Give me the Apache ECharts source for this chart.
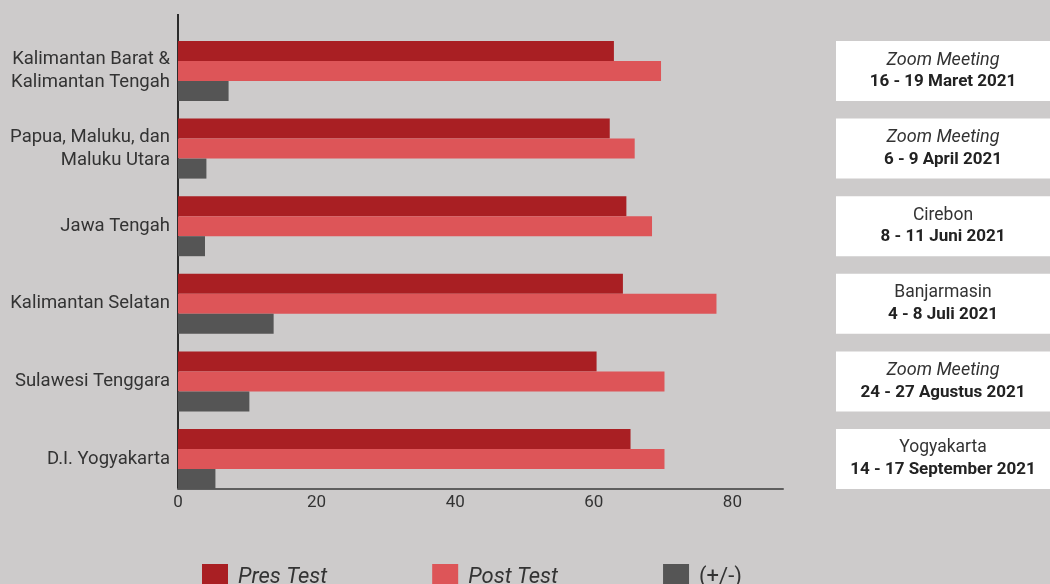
<!DOCTYPE html>
<html>
<head>
<meta charset="utf-8">
<script src="https://cdn.jsdelivr.net/npm/echarts@6/dist/echarts.min.js"></script>
<style>
  html, body { margin: 0; padding: 0; background: #cdcbcb; }
  #chart { width: 1050px; height: 584px; }
</style>
</head>
<body>
<div id="chart"></div>
<script>
// Regions (top to bottom)
const regions = [
    'Kalimantan Barat &\nKalimantan Tengah',
    'Papua, Maluku, dan\nMaluku Utara',
    'Jawa Tengah',
    'Kalimantan Selatan',
    'Sulawesi Tenggara',
    'D.I. Yogyakarta'
];

// Scores
const preTest = [62.9, 62.3, 64.7, 64.2, 60.4, 65.3];
const postTest = [69.7, 65.9, 68.4, 77.7, 70.2, 70.2];
const change = [7.3, 4.1, 3.9, 13.8, 10.3, 5.4];

// Venue + date for each region (right hand boxes)
const venues = ['Zoom Meeting', 'Zoom Meeting', 'Cirebon', 'Banjarmasin', 'Zoom Meeting', 'Yogyakarta'];
const dates = [
    '16 - 19 Maret 2021',
    '6 - 9 April 2021',
    '8 - 11 Juni 2021',
    '4 - 8 Juli 2021',
    '24 - 27 Agustus 2021',
    '14 - 17 September 2021'
];
const boxFill = regions.map(() => 1);

const xTicks = { min: 0, max: 87.3, interval: 20 };

const FONT = 'Roboto, "DejaVu Sans", sans-serif';
const gridTop = 32.2;
const gridBottom = 86.2;

const chart = echarts.init(document.getElementById('chart'));

chart.setOption({
    animation: false,
    backgroundColor: '#cdcbcb',
    textStyle: { fontFamily: FONT },
    legend: {
        left: 197,
        top: 559,
        itemWidth: 26,
        itemHeight: 26,
        itemGap: 105,
        icon: 'rect',
        textStyle: { fontSize: 22, color: '#333', fontFamily: FONT, padding: [0, 0, 0, 5] },
        data: [
            { name: 'Pres Test', textStyle: { fontStyle: 'italic' } },
            { name: 'Post Test', textStyle: { fontStyle: 'italic' } },
            { name: '(+/-)' }
        ]
    },
    grid: [
        { left: 178, right: 267, top: gridTop, bottom: gridBottom },
        { left: 836, right: -6, top: gridTop, bottom: gridBottom }
    ],
    xAxis: [
        {
            type: 'value',
            gridIndex: 0,
            min: xTicks.min,
            max: xTicks.max,
            interval: xTicks.interval,
            offset: -8.8,
            splitLine: { show: false },
            axisTick: { show: false },
            axisLine: { show: true, lineStyle: { color: '#5e5e5e', width: 2 } },
            axisLabel: { fontSize: 17, color: '#333', margin: 5, showMaxLabel: false }
        },
        { type: 'value', gridIndex: 1, min: 0, max: 1, show: false }
    ],
    yAxis: [
        {
            type: 'category',
            gridIndex: 0,
            inverse: true,
            data: regions,
            axisLine: { show: false },
            axisTick: { show: false },
            axisLabel: { fontSize: 18.5, color: '#333', lineHeight: 23, margin: 8, align: 'right' }
        },
        { type: 'category', gridIndex: 1, inverse: true, data: regions, show: false }
    ],
    series: [
        {
            name: 'Pres Test', type: 'bar', barWidth: 20, barGap: '0%',
            itemStyle: { color: '#a91f23' }, data: preTest
        },
        {
            name: 'Post Test', type: 'bar', barWidth: 20, barGap: '0%',
            itemStyle: { color: '#dd5558' }, data: postTest
        },
        {
            name: '(+/-)', type: 'bar', barWidth: 20, barGap: '0%',
            itemStyle: { color: '#555555' }, data: change
        },
        {
            name: 'venue', type: 'bar', xAxisIndex: 1, yAxisIndex: 1,
            barWidth: 60, silent: true,
            itemStyle: { color: '#ffffff' },
            data: boxFill,
            label: {
                show: true,
                position: 'inside',
                formatter: (p) => {
                    const v = venues[p.dataIndex];
                    const style = v === 'Zoom Meeting' ? 'it' : 'rg';
                    return '{' + style + '|' + v + '}\n{bd|' + dates[p.dataIndex] + '}';
                },
                rich: {
                    it: { fontSize: 18, fontStyle: 'italic', color: '#333', lineHeight: 22, fontFamily: FONT },
                    rg: { fontSize: 17.5, color: '#333', lineHeight: 22, fontFamily: FONT },
                    bd: { fontSize: 17, fontWeight: 'bold', color: '#222', lineHeight: 22, fontFamily: FONT }
                }
            }
        }
    ]
});

// y axis spine: runs from near the top down to the x axis line
const x0 = chart.convertToPixel({ xAxisIndex: 0 }, 0);
const yEnd = 584 - gridBottom - 8.8;
chart.setOption({
    graphic: [{
        type: 'line',
        shape: { x1: x0, y1: 14, x2: x0, y2: yEnd },
        style: { stroke: '#2b2b2b', lineWidth: 2 },
        silent: true
    }]
});
</script>
</body>
</html>
